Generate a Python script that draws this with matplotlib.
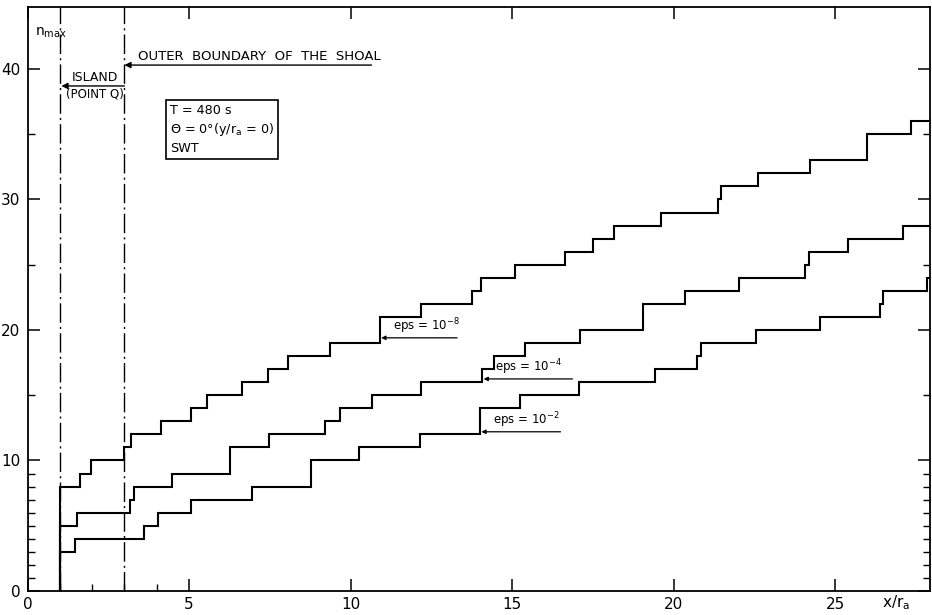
import matplotlib
matplotlib.use('Agg')
import matplotlib.pyplot as plt
from matplotlib.ticker import FixedLocator, NullFormatter

plt.rcParams['font.family'] = ['DejaVu Sans']

# step positions (x/r_a) and n_max after each step, one list per tolerance
x_eps8 = [1.0, 1.0, 1.64, 1.97, 3.0, 3.21, 4.14, 5.07, 5.57, 6.65, 7.46, 8.08, 9.38,
          10.9, 12.17, 13.77, 14.05, 15.08, 16.65, 17.5, 18.17, 19.6, 21.39, 21.47,
          22.6, 24.24, 26.0, 27.34, 27.94]
n_eps8 = [0, 8, 9, 10, 11, 12, 13, 14, 15, 16, 17, 18, 19,
          21, 22, 23, 24, 25, 26, 27, 28, 29, 30, 31,
          32, 33, 35, 36, 36]

x_eps4 = [1.0, 1.0, 1.53, 3.17, 3.31, 4.46, 6.26, 7.47, 9.2, 9.66, 10.67, 12.17,
          14.07, 14.43, 15.4, 17.09, 19.04, 20.37, 22.04, 24.06, 24.2, 25.4, 27.09, 27.94]
n_eps4 = [0, 5, 6, 7, 8, 9, 11, 12, 13, 14, 15, 16,
          17, 18, 19, 20, 22, 23, 24, 25, 26, 27, 28, 28]

x_eps2 = [1.0, 1.0, 1.46, 3.62, 4.03, 5.06, 6.94, 8.78, 10.25, 12.16, 14.0, 15.25,
          17.06, 19.44, 20.74, 20.86, 22.54, 24.55, 26.38, 26.47, 27.86, 27.94]
n_eps2 = [0, 3, 4, 5, 6, 7, 8, 10, 11, 12, 14, 15,
          16, 17, 18, 19, 20, 21, 22, 23, 24, 24]

island_x = 1.0
shoal_x = 3.0

fig = plt.figure(figsize=(9.32, 6.15), dpi=100)
ax = fig.add_axes([27.5 / 932, 24 / 615, 902.5 / 932, 584 / 615])

for xs, ns in [(x_eps8, n_eps8), (x_eps4, n_eps4), (x_eps2, n_eps2)]:
    ax.plot(xs, ns, drawstyle='steps-post', color='black', lw=1.5,
            solid_joinstyle='miter')

for xv in (island_x, shoal_x):
    ax.axvline(xv, color='black', lw=1.0, linestyle=(0, (14, 3, 1.5, 3)))

ax.set_xlim(0, 27.94)
ax.set_ylim(0, 44.75)

# ticks on all four sides, pointing inwards
ax.set_xticks([0, 5, 10, 15, 20, 25])
ax.set_yticks([0, 10, 20, 30, 40])
ax.xaxis.set_minor_locator(FixedLocator([1, 2, 3, 4]))
ax.yaxis.set_minor_locator(FixedLocator([1, 2, 3, 4, 5, 6, 7, 8, 9, 15, 25, 35]))
ax.xaxis.set_minor_formatter(NullFormatter())
ax.tick_params(which='major', direction='in', length=8.5, width=1.1,
               labelsize=11, top=True, right=True, pad=4)
ax.tick_params(which='minor', direction='in', length=5, width=1.0,
               left=True, right=True, bottom=True, top=False)
ax.tick_params(axis='y', which='major', pad=5)
ax.set_xticklabels(['0', '5', '10', '15', '20', '25'])
ax.set_yticklabels(['0', '10', '20', '30', '40'])
for sp in ax.spines.values():
    sp.set_linewidth(1.3)

# axis titles
ax.text(0.008, 0.955, r'n$_{\mathrm{max}}$', transform=ax.transAxes,
        fontsize=10, ha='left', va='center')
fig.text(882 / 932, 1 - 603 / 615, r'x/r$_{\mathrm{a}}$', fontsize=11,
         ha='left', va='center')

# boundary annotations
arrow = dict(arrowstyle='-|>', color='black', lw=1.0, mutation_scale=9,
             shrinkA=0, shrinkB=0)
ax.annotate('', xy=(shoal_x, 40.3), xytext=(10.65, 40.3), arrowprops=arrow)
ax.text(3.42, 40.45, 'OUTER  BOUNDARY  OF  THE  SHOAL', fontsize=9.5,
        ha='left', va='bottom')
ax.annotate('', xy=(island_x + 0.05, 38.7), xytext=(shoal_x, 38.7), arrowprops=arrow)
ax.text(1.38, 38.85, 'ISLAND', fontsize=9, ha='left', va='bottom')
ax.text(1.2, 38.55, '(POINT Q)', fontsize=8.5, ha='left', va='top')

# parameter box
ax.text(4.42, 37.35, 'T = 480 s\n' + r'$\Theta$ = 0°(y/r$_{\mathrm{a}}$ = 0)' + '\nSWT',
        fontsize=9.2, ha='left', va='top', linespacing=1.4,
        bbox=dict(boxstyle='square,pad=0.3', fc='white', ec='black', lw=1.2))

# tolerance labels with leader arrows
eps_labels = [(r'eps = 10$^{-8}$', 10.95, 13.3, 19.4),
              (r'eps = 10$^{-4}$', 14.12, 16.87, 16.25),
              (r'eps = 10$^{-2}$', 14.05, 16.5, 12.2)]
for label, x_tip, x_end, y_line in eps_labels:
    ax.annotate('', xy=(x_tip, y_line), xytext=(x_end, y_line),
                arrowprops=dict(arrowstyle='-|>', color='black', lw=0.9,
                                mutation_scale=6, shrinkA=0, shrinkB=0))
    ax.text(x_tip + 0.35, y_line + 0.12, label, fontsize=8.5, ha='left', va='bottom')

fig.savefig('out.png', dpi=100)
